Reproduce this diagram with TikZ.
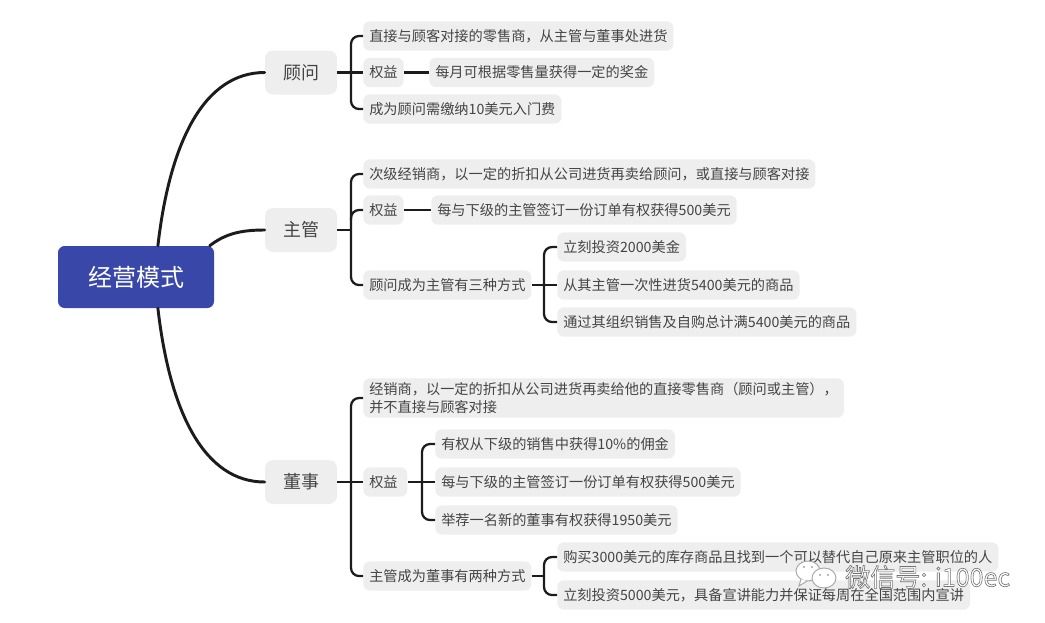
\documentclass[tikz,border=0pt]{standalone}
\usepackage{fontspec}
\setmainfont{Noto Sans CJK SC}
\newfontfamily\markfont[FakeBold=2.5]{Noto Sans CJK SC}
\definecolor{rootblue}{HTML}{3947A8}
\definecolor{boxgray}{HTML}{EEEEEE}
\definecolor{textgray}{HTML}{444444}
\definecolor{linedark}{HTML}{1C1C1C}
\tikzset{
  rootbox/.style={fill=rootblue,text=white,rounded corners=5,minimum width=117pt,minimum height=46.5pt,inner sep=0pt,font=\fontsize{18}{22}\selectfont},
  headbox/.style={fill=boxgray,text=textgray,rounded corners=6,minimum width=54pt,minimum height=33pt,inner sep=0pt,font=\fontsize{13.5}{16}\selectfont},
  itembox/.style={anchor=west,fill=boxgray,text=textgray,rounded corners=5,minimum height=22pt,inner xsep=4.5pt,inner ysep=0pt,font=\fontsize{10.65}{13.5}\selectfont},
  stem/.style={draw=linedark,line width=2.2pt,line cap=round},
  branch/.style={draw=linedark,line width=1.7pt,rounded corners=6pt},
  bubble/.style={draw=gray!70,fill=white,line width=.7pt}
}
\begin{document}
\begin{tikzpicture}[x=.75pt,y=-.75pt]
  \useasboundingbox (0,0) rectangle (1045,622);
  \node[rootbox] (root) at (136,277) {经营模式};
  \node[headbox] (guwen) at (301,72.5) {顾问};
  \node[headbox] (zhuguan) at (301,230) {主管};
  \node[headbox] (dongshi) at (301,482) {董事};

  \node[itembox] (g1) at (363,36) {直接与顾客对接的零售商，从主管与董事处进货};
  \node[itembox] (g2) at (363,72.5) {权益};
  \node[itembox] (g2a) at (429,72.5) {每月可根据零售量获得一定的奖金};
  \node[itembox] (g3) at (363,109) {成为顾问需缴纳10美元入门费};

  \node[itembox] (z1) at (363,174) {次级经销商，以一定的折扣从公司进货再卖给顾问，或直接与顾客对接};
  \node[itembox] (z2) at (363,210) {权益};
  \node[itembox] (z2a) at (431,210) {每与下级的主管签订一份订单有权获得500美元};
  \node[itembox] (z3) at (363,285) {顾问成为主管有三种方式};
  \node[itembox] (z3a) at (557,247) {立刻投资2000美金};
  \node[itembox] (z3b) at (557,285) {从其主管一次性进货5400美元的商品};
  \node[itembox] (z3c) at (557,322) {通过其组织销售及自购总计满5400美元的商品};

  \node[itembox,align=left,inner ysep=3pt] (d1) at (363,398) {经销商，以一定的折扣从公司进货再卖给他的直接零售商（顾问或主管），\\并不直接与顾客对接};
  \node[itembox,minimum width=33pt,text width=24pt] (d2) at (363,482) {权益};
  \node[itembox] (d2a) at (435,444) {有权从下级的销售中获得10\%的佣金};
  \node[itembox] (d2b) at (435,482) {每与下级的主管签订一份订单有权获得500美元};
  \node[itembox] (d2c) at (435,520) {举荐一名新的董事有权获得1950美元};
  \node[itembox] (d3) at (363,576) {主管成为董事有两种方式};
  \node[itembox] (d3a) at (557,557) {购买3000美元的库存商品且找到一个可以替代自己原来主管职位的人};
  \node[itembox] (d3b) at (557,595) {立刻投资5000美元，具备宣讲能力并保证每周在全国范围内宣讲};

  \draw[stem] (root.55) .. controls (170,140) and (205,72.5) .. (guwen.west);
  \draw[stem] (root.23) .. controls (225,234) and (240,230) .. (zhuguan.west);
  \draw[stem] (root.-55) .. controls (170,414) and (205,482) .. (dongshi.west);

  \draw[branch] (guwen.east) -- (g2.west);
  \draw[branch] (g1.west) -- ++(-12,0) |- (g3.west);
  \draw[branch] (g2.east) -- (g2a.west);

  \draw[branch] (zhuguan.east) -- ++(14,0);
  \draw[branch] (z1.west) -- ++(-12,0) |- (z3.west);
  \draw[branch] (z2.west) -- ++(-12,0) -- ++(0,10);
  \draw[branch] (z2.east) -- (z2a.west);
  \draw[branch] (z3.east) -- (z3b.west);
  \draw[branch] (z3a.west) -- ++(-13,0) |- (z3c.west);

  \draw[branch] (dongshi.east) -- (d2.west);
  \draw[branch] (d1.west) -- ++(-12,0) |- (d3.west);
  \draw[branch] (d2.east) -- (d2b.west);
  \draw[branch] (d2a.west) -- ++(-13,0) |- (d2c.west);
  \draw[branch] (d3.east) -- ++(13,0);
  \draw[branch] (d3a.west) -- ++(-13,0) |- (d3b.west);

  \draw[bubble] (808,571) ellipse (12 and 10);
  \draw[bubble] (801,579) -- (799,586) -- (807,581);
  \draw[bubble] (824,578) ellipse (12 and 10);
  \fill[gray!70] (804,567) circle (1.2) (812,567) circle (1.2) (820,575) circle (1.2) (828,575) circle (1.2);
  \node[anchor=west,inner sep=0pt,font=\fontsize{18.8}{22}\selectfont] (mark) at (845,577) {\color{white}\special{pdf:code 0.45 G}\markfont 微信号: i100ec};
\end{tikzpicture}
\end{document}
